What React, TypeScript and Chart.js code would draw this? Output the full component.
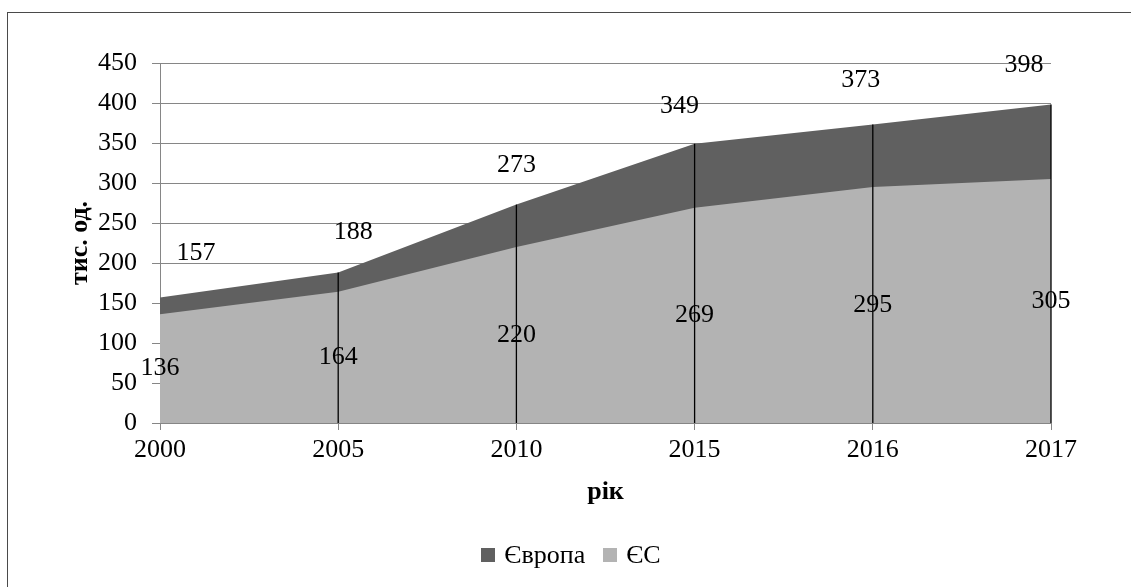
import React, { useEffect, useRef } from "react";
import { Chart, registerables } from "chart.js";

Chart.register(...registerables);

// ---- data ----
const YEARS = ["2000", "2005", "2010", "2015", "2016", "2017"];
const EUROPE = [157, 188, 273, 349, 373, 398];
const EU = [136, 164, 220, 269, 295, 305];
const SERIES_NAMES = ["Європа", "ЄС"];
const Y_MIN = 0;
const Y_MAX = 450;
const Y_STEP = 50;
const X_TITLE = "рік";
const Y_TITLE = "тис. од.";

// ---- styles ----
const FONT = "'Liberation Serif', 'Times New Roman', serif";
const FS = 26;
const DARK = "#606060";
const LIGHT = "#b3b3b3";
const GRID = "#868686";
const FRAME = "#4a4a4a";
// Excel-like nudges for the outer (Європа) labels, in pixels
const EUROPE_LABEL_DX = [36, 15, 0, -15, -12, -27];
const EUROPE_LABEL_DY = [-44, -40, -39, -38, -44, -39];

const overlay = {
  id: "overlay",
  afterDatasetsDraw(chart: any) {
    const { ctx, chartArea, scales } = chart;
    const x = scales.x;
    const y = scales.y;
    ctx.save();
    // drop lines
    ctx.strokeStyle = "#000";
    ctx.lineWidth = 1.3;
    const y0 = y.getPixelForValue(0);
    EUROPE.forEach((v, i) => {
      if (i === 0) return; // coincides with the value axis
      const px = x.getPixelForValue(i);
      ctx.beginPath();
      ctx.moveTo(px, y.getPixelForValue(v));
      ctx.lineTo(px, y0);
      ctx.stroke();
    });
    // category axis line on top of the fill
    ctx.strokeStyle = GRID;
    ctx.lineWidth = 1;
    ctx.beginPath();
    ctx.moveTo(chartArea.left - 8, Math.round(y0) + 0.5);
    ctx.lineTo(chartArea.right, Math.round(y0) + 0.5);
    ctx.stroke();
    // data labels
    ctx.fillStyle = "#000";
    ctx.font = `${FS}px ${FONT}`;
    ctx.textAlign = "center";
    ctx.textBaseline = "middle";
    EUROPE.forEach((v, i) => {
      const px = x.getPixelForValue(i) + EUROPE_LABEL_DX[i];
      const py = y.getPixelForValue(v) + EUROPE_LABEL_DY[i];
      ctx.fillText(String(v), px, py);
    });
    EU.forEach((v, i) => {
      const px = x.getPixelForValue(i);
      const py = y.getPixelForValue(v / 2);
      ctx.fillText(String(v), px, py);
    });
    ctx.restore();
  },
};

export default function App() {
  const ref = useRef<HTMLCanvasElement | null>(null);

  useEffect(() => {
    if (!ref.current) return;
    const chart = new Chart(ref.current, {
      type: "line",
      data: {
        labels: YEARS,
        datasets: [
          {
            label: SERIES_NAMES[0],
            data: EUROPE,
            backgroundColor: DARK,
            borderColor: "rgba(0,0,0,0)",
            borderWidth: 0,
            pointRadius: 0,
            fill: "origin",
            tension: 0,
            order: 2,
          },
          {
            label: SERIES_NAMES[1],
            data: EU,
            backgroundColor: LIGHT,
            borderColor: "rgba(0,0,0,0)",
            borderWidth: 0,
            pointRadius: 0,
            fill: "origin",
            tension: 0,
            order: 1,
          },
        ],
      },
      options: {
        animation: false,
        responsive: false,
        devicePixelRatio: 1,
        layout: { padding: { left: 0, right: 80, top: 63, bottom: 64 } },
        plugins: {
          legend: { display: false },
          tooltip: { enabled: false },
        },
        scales: {
          x: {
            type: "category",
            offset: false,
            ticks: {
              color: "#000",
              font: { family: FONT, size: FS },
              padding: 4.4,
              maxRotation: 0,
              autoSkip: false,
            },
            grid: { display: true, drawOnChartArea: false, tickLength: 7, color: GRID },
            border: { color: GRID, width: 1 },
            title: {
              display: true,
              text: X_TITLE,
              color: "#000",
              font: { family: FONT, size: FS, weight: "bold" },
              padding: { top: 0, bottom: 15.4 },
            },
            afterFit(s: any) {
              s.height = 100;
            },
          },
          y: {
            min: Y_MIN,
            max: Y_MAX,
            ticks: {
              stepSize: Y_STEP,
              color: "#000",
              font: { family: FONT, size: FS },
              padding: 15,
            },
            grid: { color: GRID, tickLength: 8, lineWidth: 1 },
            border: { color: GRID, width: 1 },
            title: {
              display: true,
              text: Y_TITLE,
              color: "#000",
              font: { family: FONT, size: FS, weight: "bold" },
              padding: { top: 64.4, bottom: 0 },
            },
            afterFit(s: any) {
              s.width = 160;
            },
          },
        },
      },
      plugins: [overlay],
    } as any);
    return () => chart.destroy();
  }, []);

  const legendItems = [
    { name: SERIES_NAMES[0], color: DARK },
    { name: SERIES_NAMES[1], color: LIGHT },
  ];

  return (
    <div style={{ position: "absolute", left: 0, top: 0, width: 1131, height: 587, overflow: "hidden", background: "#fff" }}>
      <div
        style={{
          position: "absolute",
          left: 7,
          top: 12,
          width: 1130,
          height: 600,
          borderTop: `1.5px solid ${FRAME}`,
          borderLeft: `1.5px solid ${FRAME}`,
        }}
      />
      <canvas ref={ref} width={1131} height={587} style={{ position: "absolute", left: 0, top: 0 }} />
      <div
        style={{
          position: "absolute",
          left: 0,
          width: 1142,
          top: 541,
          height: 28,
          display: "flex",
          justifyContent: "center",
          alignItems: "center",
          fontFamily: FONT,
          fontSize: FS,
          lineHeight: "28px",
          color: "#000",
          gap: 18,
        }}
      >
        {legendItems.map((it) => (
          <div key={it.name} style={{ display: "flex", alignItems: "center", gap: 9 }}>
            <span style={{ width: 14, height: 14, background: it.color, display: "inline-block" }} />
            <span>{it.name}</span>
          </div>
        ))}
      </div>
    </div>
  );
}
